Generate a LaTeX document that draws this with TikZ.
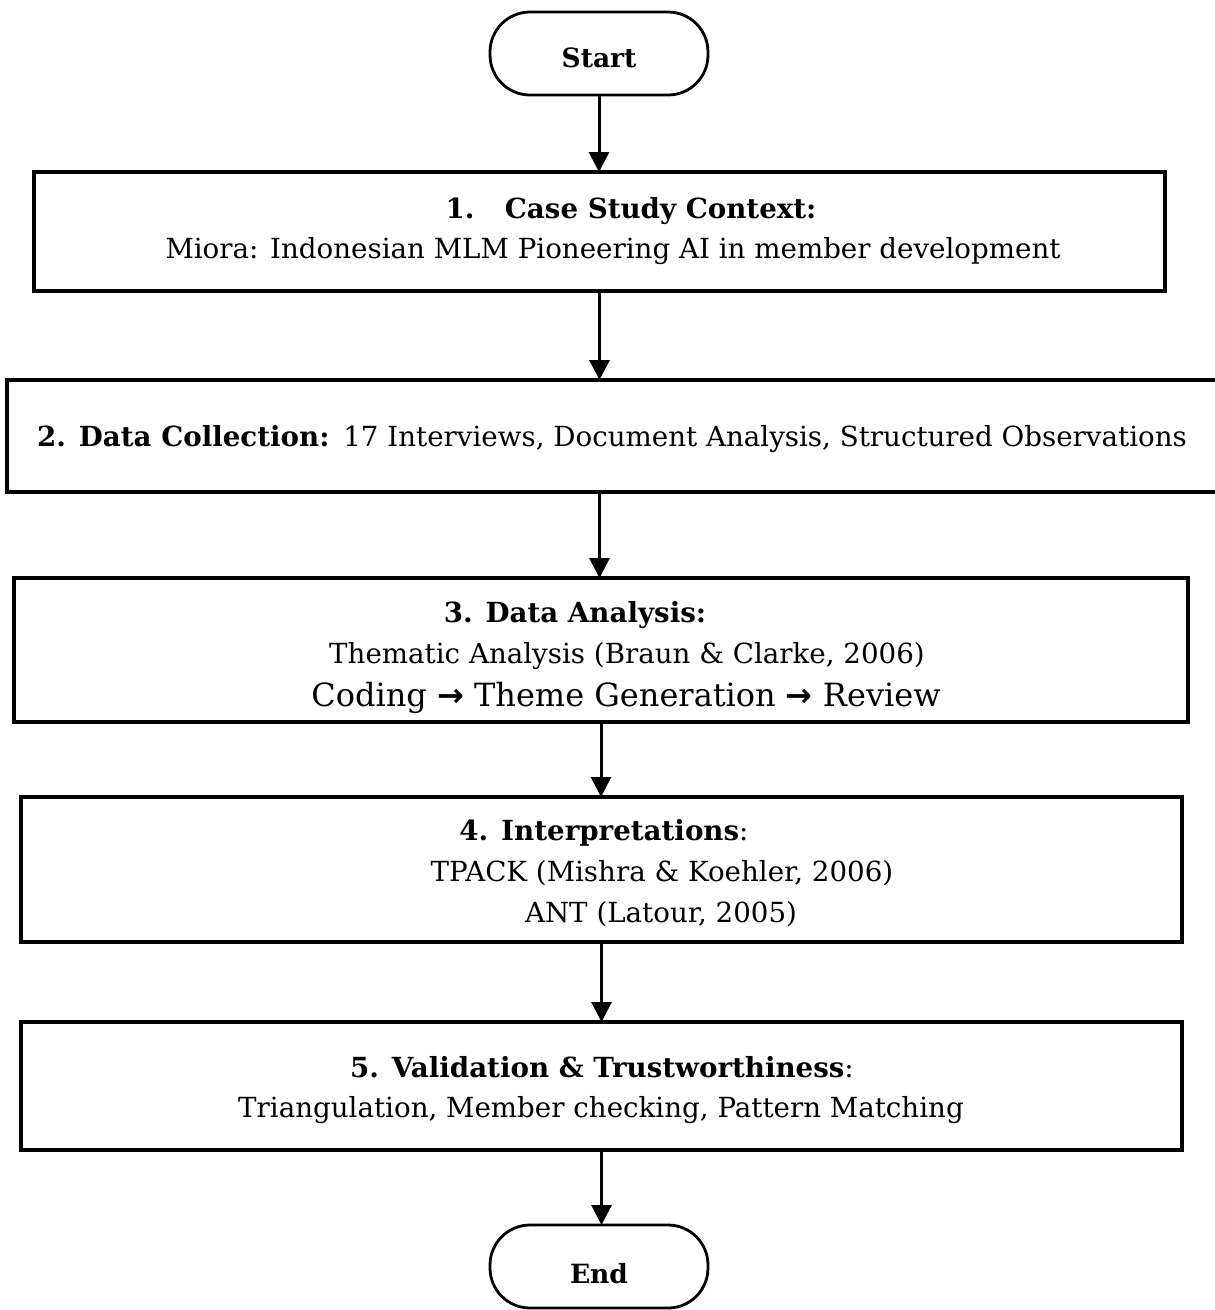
\documentclass[tikz,border=0pt]{standalone}
\usepackage{fontspec}
\setmainfont{DejaVu Serif}
\newfontfamily\arrowfont{DejaVu Sans}
\usetikzlibrary{arrows.meta}
\begin{document}
\begin{tikzpicture}[x=1pt,y=-1pt,
  stepbox/.style={draw, line width=3.2pt, inner sep=0pt, outer sep=0pt},
  terminal/.style={draw, line width=2.8pt, rounded corners=40pt, minimum width=218pt, minimum height=83pt, inner sep=0pt, outer sep=0pt},
  txt/.style={anchor=base, inner sep=0pt, font=\fontsize{27.7}{32}\selectfont},
  termtxt/.style={anchor=base, inner sep=0pt, font=\fontsize{26.5}{30}\selectfont\bfseries},
  bigtxt/.style={anchor=base, inner sep=0pt, font=\fontsize{32}{36}\selectfont},
  arr/.style={line width=3pt, -{Triangle[width=20pt,length=20pt]}}]
\useasboundingbox (0,0) rectangle (1215,1310);
% terminals
\node[terminal] (start) at (599,53.5) {};
\node[termtxt] (starttxt) at (599,67) {Start};
\node[terminal] (end) at (599,1266.5) {};
\node[termtxt] (endtxt) at (599,1283) {End};
% boxes
\node[stepbox, minimum width=1131pt, minimum height=119pt] (b1) at (599.5,231.5) {};
\node[stepbox, minimum width=1213pt, minimum height=112pt] (b2) at (613.5,436) {};
\node[stepbox, minimum width=1174pt, minimum height=144pt] (b3) at (601,650) {};
\node[stepbox, minimum width=1161pt, minimum height=145pt] (b4) at (601.5,869.5) {};
\node[stepbox, minimum width=1161pt, minimum height=128pt] (b5) at (601.5,1086) {};
% texts
\node[txt] (t1a) at (631,218) {\bfseries 1.\hspace{1.1em}Case Study Context:};
\node[txt] (t1b) at (613,258) {Miora: Indonesian MLM Pioneering AI in member development};
\node[txt] (t2) at (612,446) {\textbf{2. Data Collection:}\hspace{0.5em}17 Interviews, Document Analysis, Structured Observations};
\node[txt] (t3a) at (575,622) {\bfseries 3. Data Analysis:};
\node[txt] (t3b) at (627,663) {Thematic Analysis (Braun \& Clarke, 2006)};
\node[bigtxt] (t3c) at (626,706) {Coding {\arrowfont\bfseries →} Theme Generation {\arrowfont\bfseries →} Review};
\node[txt] (t4a) at (604,840) {\textbf{4. Interpretations}:};
\node[txt] (t4b) at (662,881) {TPACK (Mishra \& Koehler, 2006)};
\node[txt] (t4c) at (661,922) {ANT (Latour, 2005)};
\node[txt] (t5a) at (602,1077) {\textbf{5. Validation \& Trustworthiness}:};
\node[txt] (t5b) at (601,1117) {Triangulation, Member checking, Pattern Matching};
% arrows
\draw[arr] (start.south) -- (start.south |- b1.north);
\draw[arr] (b1.south) -- (b1.south |- b2.north);
\draw[arr] (b1.south |- b2.south) -- (b1.south |- b3.north);
\draw[arr] (b3.south) -- (b3.south |- b4.north);
\draw[arr] (b4.south) -- (b4.south |- b5.north);
\draw[arr] (b5.south) -- (b5.south |- end.north);
\end{tikzpicture}
\end{document}
